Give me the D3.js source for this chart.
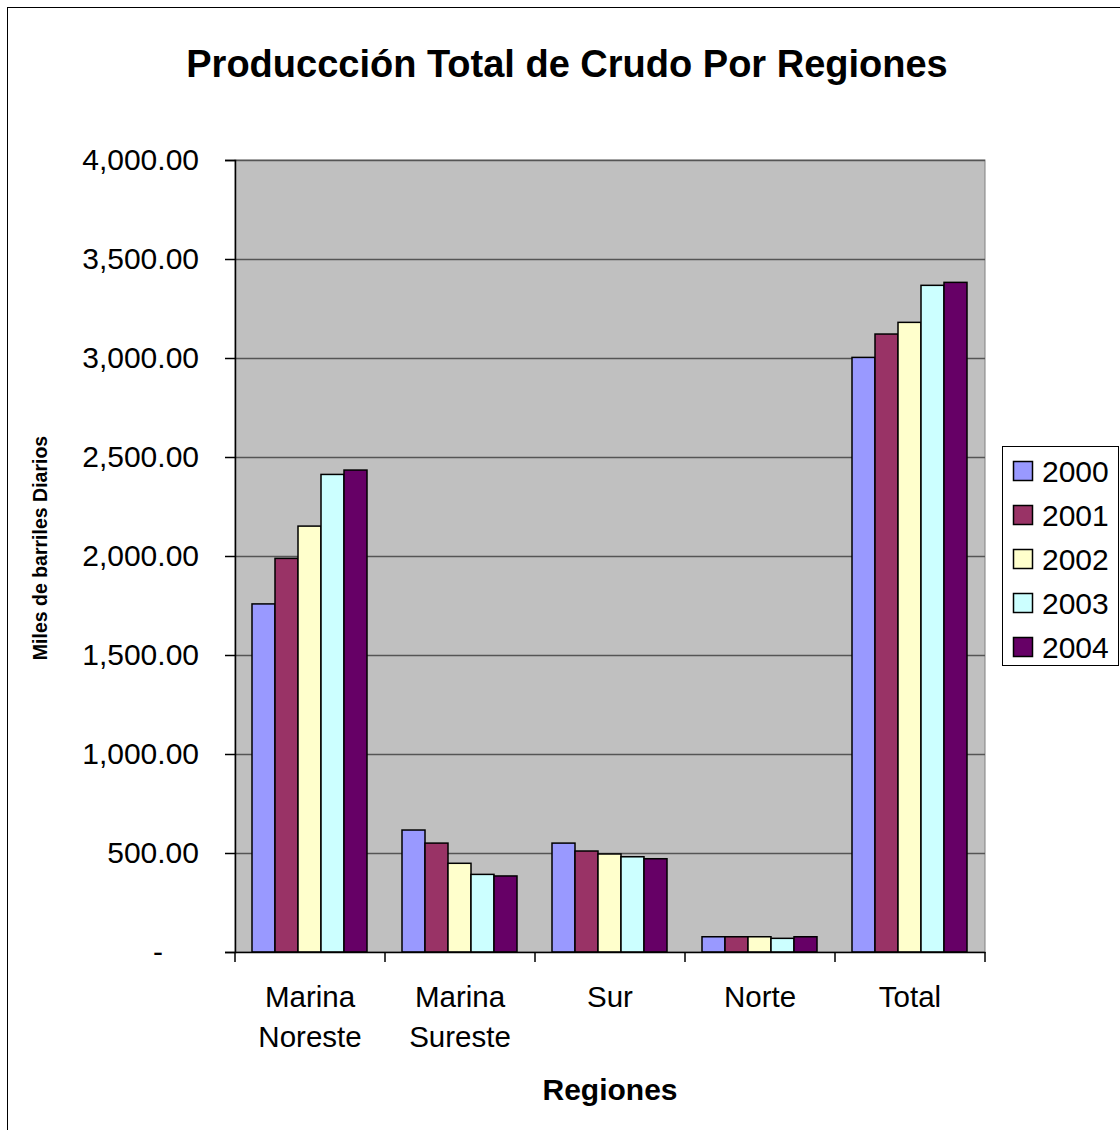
<!DOCTYPE html>
<html>
<head>
<meta charset="utf-8">
<script src="https://cdn.jsdelivr.net/npm/d3@7"></script>
<style>
  body { margin: 0; background: #fff; }
  svg { display: block; font-family: Arial, "Liberation Sans", sans-serif; }
</style>
</head>
<body>
<div id="chart"></div>
<script>
const regions = [["Marina", "Noreste"], ["Marina", "Sureste"], ["Sur"], ["Norte"], ["Total"]];
const years = ["2000", "2001", "2002", "2003", "2004"];
const v2000 = [1758, 616, 550, 77, 3003];
const v2001 = [1988, 550, 510, 77, 3121];
const v2002 = [2151, 448, 495, 77, 3180];
const v2003 = [2412, 392, 481, 69, 3367];
const v2004 = [2434, 384, 471, 77, 3382];
const yTicks = [0, 500, 1000, 1500, 2000, 2500, 3000, 3500, 4000];
const colors = ["#9999ff", "#993366", "#ffffcc", "#ccffff", "#660066"];

const series = [v2000, v2001, v2002, v2003, v2004];
const keys = regions.map(r => r.join(" "));

const width = 1120, height = 1130;
const plotLeft = 235, plotRight = 985, plotTop = 160, plotBottom = 952;

const svg = d3.select("#chart").append("svg")
    .attr("width", width)
    .attr("height", height);

// chart frame (extends past the picture on right/bottom)
svg.append("rect")
    .attr("x", 7.5).attr("y", 7.5)
    .attr("width", 1200).attr("height", 1200)
    .attr("fill", "#fff").attr("stroke", "#000");

const x0 = d3.scaleBand().domain(keys).range([plotLeft, plotRight]);
const x1 = d3.scaleBand().domain(years)
    .range([17, x0.bandwidth() - 18]);
const y = d3.scaleLinear().domain([0, 4000]).range([plotBottom, plotTop]);

// plot area
svg.append("rect")
    .attr("x", plotLeft).attr("y", plotTop)
    .attr("width", plotRight - plotLeft).attr("height", plotBottom - plotTop)
    .attr("fill", "#c0c0c0").attr("stroke", "#808080");

// gridlines
svg.append("g")
    .selectAll("line")
    .data(yTicks.slice(1))
    .join("line")
      .attr("x1", plotLeft).attr("x2", plotRight)
      .attr("y1", d => Math.round(y(d)) + 0.5).attr("y2", d => Math.round(y(d)) + 0.5)
      .attr("stroke", "#555").attr("stroke-width", 1.5);

// bars
const rows = keys.map((k, i) => ({ key: k, vals: series.map((s, j) => ({ year: years[j], value: s[i] })) }));
svg.append("g")
  .selectAll("g")
  .data(rows)
  .join("g")
    .attr("transform", d => `translate(${x0(d.key)},0)`)
  .selectAll("rect")
  .data(d => d.vals)
  .join("rect")
    .attr("x", d => x1(d.year))
    .attr("y", d => y(d.value))
    .attr("width", x1.bandwidth())
    .attr("height", d => y(0) - y(d.value))
    .attr("fill", (d, i) => colors[i])
    .attr("stroke", "#000")
    .attr("stroke-width", 1.5);

// y axis
const fmt = d => d === 0 ? "-" : d3.format(",.2f")(d);
svg.append("g")
    .attr("transform", `translate(${plotLeft},0)`)
    .call(d3.axisLeft(y).tickValues(yTicks).tickFormat(fmt).tickSize(10).tickPadding(26))
    .call(g => g.select(".domain").attr("stroke", "#000").attr("stroke-width", 1.5))
    .call(g => g.selectAll(".tick line").attr("stroke", "#000").attr("stroke-width", 1.5))
    .call(g => g.selectAll("text").attr("font-size", 30).attr("fill", "#000")
        .attr("font-family", "Arial, 'Liberation Sans', sans-serif"))
    .call(g => g.selectAll(".tick text").filter(d => d === 0).attr("dx", -36));

// x axis
const xAxis = svg.append("g")
    .attr("transform", `translate(0,${plotBottom})`)
    .call(d3.axisBottom(x0).tickSize(0).tickFormat(""))
    .call(g => g.select(".domain").attr("stroke", "#000").attr("stroke-width", 1.5));
xAxis.selectAll(".tick").remove();
xAxis.append("g").selectAll("line")
    .data(d3.range(keys.length + 1))
    .join("line")
      .attr("x1", i => plotLeft + i * x0.step()).attr("x2", i => plotLeft + i * x0.step())
      .attr("y1", 0).attr("y2", 10)
      .attr("stroke", "#000").attr("stroke-width", 1.5);

const labels = svg.append("g");
rows.forEach((r, i) => {
  const t = labels.append("text")
      .attr("x", x0(r.key) + x0.bandwidth() / 2)
      .attr("y", 1007)
      .attr("text-anchor", "middle")
      .attr("font-size", 29.5);
  regions[i].forEach((line, k) => {
    t.append("tspan").attr("x", x0(r.key) + x0.bandwidth() / 2)
      .attr("dy", k === 0 ? 0 : 40).text(line);
  });
});

// titles
svg.append("text")
    .attr("x", 567).attr("y", 77)
    .attr("text-anchor", "middle")
    .attr("font-size", 38).attr("font-weight", "bold")
    .text("Produccción Total de Crudo Por Regiones");

svg.append("text")
    .attr("x", 610).attr("y", 1100)
    .attr("text-anchor", "middle")
    .attr("font-size", 30).attr("font-weight", "bold")
    .text("Regiones");

svg.append("text")
    .attr("transform", "translate(47,548) rotate(-90)")
    .attr("text-anchor", "middle")
    .attr("font-size", 19.5).attr("font-weight", "bold")
    .text("Miles de barriles Diarios");

// legend
const legend = svg.append("g");
legend.append("rect")
    .attr("x", 1002.5).attr("y", 446.5)
    .attr("width", 116).attr("height", 219)
    .attr("fill", "#fff").attr("stroke", "#000");
const items = legend.selectAll("g.item")
    .data(years)
    .join("g")
      .attr("class", "item")
      .attr("transform", (d, i) => `translate(1013,${471 + i * 44})`);
items.append("rect")
    .attr("x", 0.5).attr("y", -9.5)
    .attr("width", 19).attr("height", 19)
    .attr("fill", (d, i) => colors[i])
    .attr("stroke", "#000").attr("stroke-width", 1.5);
items.append("text")
    .attr("x", 29).attr("y", 11)
    .attr("font-size", 30)
    .text(d => d);
</script>
</body>
</html>
